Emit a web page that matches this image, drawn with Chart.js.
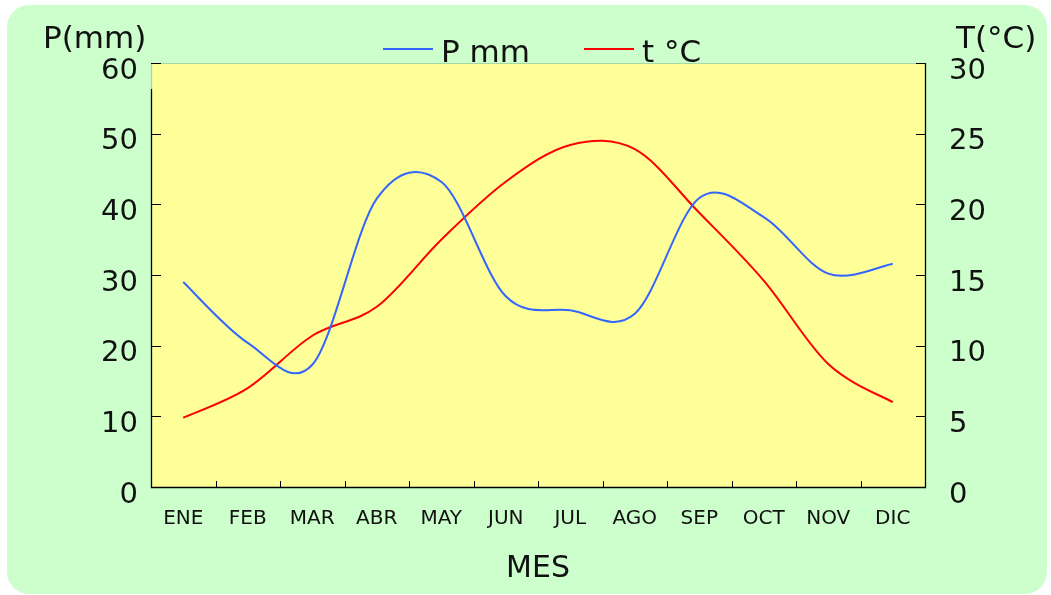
<!DOCTYPE html>
<html>
<head>
<meta charset="utf-8">
<script src="https://cdn.jsdelivr.net/npm/chart.js@4.4.1/dist/chart.umd.min.js"></script>
<style>
  html, body { margin: 0; padding: 0; background: #ffffff; }
  canvas { display: block; }
</style>
</head>
<body>
<canvas id="climograma" width="1051" height="595"></canvas>
<script>
// Monthly climate data
const months = ['ENE', 'FEB', 'MAR', 'ABR', 'MAY', 'JUN', 'JUL', 'AGO', 'SEP', 'OCT', 'NOV', 'DIC'];
const precipitation = [29, 20.4, 17.3, 40.8, 43.2, 27, 25, 24.5, 40.9, 38.2, 30.2, 31.6];
const temperature = [4.9, 7.0, 10.7, 12.75, 17.5, 21.6, 24.2, 23.9, 19.4, 14.6, 8.7, 6.0];

// Axis tick values
const precipTicks = [0, 10, 20, 30, 40, 50, 60];
const tempTicks = [0, 5, 10, 15, 20, 25, 30];

const FONT = '"DejaVu Sans", Verdana, sans-serif';
const INK = '#111111';

// Uniform Catmull-Rom smoothing for the line elements (spreadsheet-style curve)
const catmullRom = {
  id: 'catmullRom',
  beforeDatasetDraw(chart, args) {
    const line = args.meta.dataset;
    if (!line || !line.points) return;
    if (typeof line.updateControlPoints === 'function') {
      line.updateControlPoints(chart.chartArea, 'x');
    }
    const pts = line.points;
    const n = pts.length;
    for (let i = 0; i < n; i++) {
      const p = pts[i];
      const prev = pts[Math.max(i - 1, 0)];
      const next = pts[Math.min(i + 1, n - 1)];
      const dx = (next.x - prev.x) / 6;
      const dy = (next.y - prev.y) / 6;
      p.cp1x = p.x - dx; p.cp1y = p.y - dy;
      p.cp2x = p.x + dx; p.cp2y = p.y + dy;
    }
    line._path = undefined;
  }
};

const frame = {
  id: 'frame',
  beforeDraw(chart) {
    const { ctx, chartArea: a } = chart;
    ctx.save();
    ctx.fillStyle = '#ffffff';
    ctx.fillRect(0, 0, chart.width, chart.height);
    ctx.fillStyle = '#CCFFCC';
    ctx.beginPath();
    ctx.roundRect(7, 5, 1040, 589, 22);
    ctx.fill();
    ctx.fillStyle = '#FFFF99';
    ctx.fillRect(a.left, a.top, a.right - a.left, a.bottom - a.top);
    // faint top edge of the plot
    ctx.strokeStyle = '#a6d9a6';
    ctx.lineWidth = 1;
    ctx.beginPath();
    ctx.moveTo(a.left, a.top + 0.5);
    ctx.lineTo(a.right, a.top + 0.5);
    ctx.stroke();
    ctx.restore();
  },
  afterDatasetsDraw(chart) {
    const { ctx, chartArea: a, scales } = chart;
    ctx.save();
    ctx.strokeStyle = '#000000';
    ctx.lineWidth = 1.3;
    ctx.beginPath();
    // left, bottom and right axis lines
    ctx.moveTo(a.left + 0.5, a.top + 26);
    ctx.lineTo(a.left + 0.5, a.bottom + 0.5);
    ctx.lineTo(a.right + 0.5, a.bottom + 0.5);
    ctx.lineTo(a.right + 0.5, a.top);
    ctx.stroke();
    ctx.strokeStyle = '#c4c4c4';
    ctx.beginPath();
    ctx.moveTo(a.left + 0.5, a.top);
    ctx.lineTo(a.left + 0.5, a.top + 26);
    ctx.stroke();

    // inward tick marks
    ctx.strokeStyle = '#000000';
    ctx.lineWidth = 1;
    ctx.beginPath();
    scales.yP.ticks.forEach(t => {
      const y = Math.round(scales.yP.getPixelForValue(t.value)) + 0.5;
      ctx.moveTo(a.left, y);
      ctx.lineTo(a.left + 10, y);
    });
    scales.yT.ticks.forEach(t => {
      const y = Math.round(scales.yT.getPixelForValue(t.value)) + 0.5;
      ctx.moveTo(a.right, y);
      ctx.lineTo(a.right - 9, y);
    });
    const x = scales.x;
    for (let i = 0; i < months.length - 1; i++) {
      const bx = Math.round((x.getPixelForValue(i) + x.getPixelForValue(i + 1)) / 2) + 0.5;
      ctx.moveTo(bx, a.bottom);
      ctx.lineTo(bx, a.bottom - 6);
    }
    ctx.stroke();
    ctx.restore();
  },
  afterDraw(chart) {
    const { ctx } = chart;
    ctx.save();
    ctx.fillStyle = INK;
    ctx.font = '31px ' + FONT;
    ctx.textBaseline = 'alphabetic';
    ctx.textAlign = 'left';
    ctx.fillText('P(mm)', 43, 48);
    ctx.fillText('T(°C)', 956, 48);

    // legend
    const items = [
      { label: chart.data.datasets[0].label, color: chart.data.datasets[0].borderColor, x: 383 },
      { label: chart.data.datasets[1].label, color: chart.data.datasets[1].borderColor, x: 584 }
    ];
    items.forEach(it => {
      ctx.strokeStyle = it.color;
      ctx.lineWidth = 2;
      ctx.beginPath();
      ctx.moveTo(it.x, 49);
      ctx.lineTo(it.x + 50, 49);
      ctx.stroke();
      ctx.fillStyle = INK;
      ctx.fillText(it.label, it.x + 58, 62);
    });
    ctx.restore();
  }
};

new Chart(document.getElementById('climograma'), {
  type: 'line',
  data: {
    labels: months,
    datasets: [
      {
        label: 'P mm',
        data: precipitation,
        yAxisID: 'yP',
        borderColor: '#3366FF',
        borderWidth: 2,
        pointRadius: 0,
        tension: 0.33,
        fill: false
      },
      {
        label: 't °C',
        data: temperature,
        yAxisID: 'yT',
        borderColor: '#FF0000',
        borderWidth: 2,
        pointRadius: 0,
        tension: 0.33,
        fill: false
      }
    ]
  },
  options: {
    responsive: false,
    animation: false,
    devicePixelRatio: 1,
    layout: { padding: { top: 63, left: 0, right: 0, bottom: 0 } },
    plugins: { legend: { display: false }, tooltip: { enabled: false } },
    scales: {
      x: {
        type: 'category',
        offset: true,
        grid: { display: false, drawTicks: false },
        border: { display: false },
        ticks: { color: INK, font: { family: FONT, size: 20 }, padding: 20, maxRotation: 0, autoSkip: false },
        title: { display: true, text: 'MES', color: INK, font: { family: FONT, size: 30 }, padding: { top: 0, bottom: 8 } },
        afterFit(s) { s.height = 108; }
      },
      yP: {
        position: 'left',
        min: 0,
        max: 60,
        afterBuildTicks(s) { s.ticks = precipTicks.map(v => ({ value: v })); },
        grid: { display: false, drawTicks: false },
        border: { display: false },
        ticks: { color: INK, font: { family: FONT, size: 29 }, padding: 13, labelOffset: 8 },
        afterFit(s) { s.width = 151; }
      },
      yT: {
        position: 'right',
        min: 0,
        max: 30,
        afterBuildTicks(s) { s.ticks = tempTicks.map(v => ({ value: v })); },
        grid: { display: false, drawTicks: false },
        border: { display: false },
        ticks: { color: INK, font: { family: FONT, size: 29 }, padding: 24, labelOffset: 8 },
        afterFit(s) { s.width = 126; }
      }
    }
  },
  plugins: [catmullRom, frame]
});
</script>
</body>
</html>
